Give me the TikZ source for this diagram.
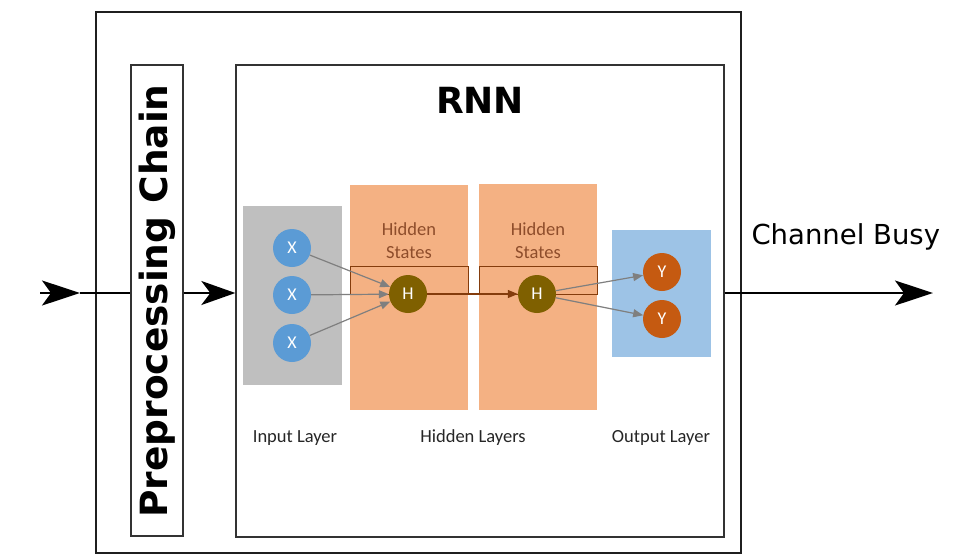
\documentclass[tikz,border=0pt]{standalone}
\usepackage{fontspec}
\usetikzlibrary{arrows.meta}
\newfontfamily\dvsans{DejaVu Sans}
\newfontfamily\lab{Carlito}

\definecolor{inbox}{HTML}{BFBFBF}
\definecolor{hidbox}{HTML}{F4B183}
\definecolor{outbox}{HTML}{9DC3E6}
\definecolor{xunit}{HTML}{5B9BD5}
\definecolor{hunit}{HTML}{7F6000}
\definecolor{yunit}{HTML}{C55A11}
\definecolor{statebrown}{HTML}{843C0C}
\definecolor{statetext}{HTML}{8E4D2B}
\definecolor{linkgray}{HTML}{7F7F7F}

\tikzset{
  frame/.style={rectangle, draw=black!88, line width=1.7pt, inner sep=0pt},
  subframe/.style={rectangle, draw=black!80, line width=1.3pt, inner sep=0pt, fill=white},
  layer/.style={rectangle, draw=none, inner sep=0pt},
  staterect/.style={rectangle, draw=statebrown, line width=1pt, inner sep=0pt},
  unit/.style={circle, minimum size=38pt, inner sep=0pt, text=white,
    font=\lab\fontsize{18}{18}\selectfont},
  lbl/.style={font=\lab\fontsize{18.5}{22}\selectfont, text=black!85},
  statelbl/.style={font=\lab\fontsize{18.5}{23}\selectfont, text=statetext, align=center},
  link/.style={draw=linkgray, line width=1.2pt, -{Triangle[length=10pt,width=8pt]}},
  hlink/.style={draw=statebrown, line width=1.2pt, -{Triangle[length=10pt,width=8pt]}},
  flow/.style={draw=black, line width=2pt},
  bigtip/.style={-{Stealth[length=38pt,width=25pt,inset=9pt]}},
}

\begin{document}
\begin{tikzpicture}[x=1pt,y=-1pt]
  \useasboundingbox (0,0) rectangle (978,560);

  % system frame, preprocessing block and RNN block
  \node[frame, minimum width=645pt, minimum height=541pt] (outer) at (418.5,282.5) {};
  \node[subframe, minimum width=52pt, minimum height=471pt] (pre) at (157,300.5) {};
  \node[rotate=90, font=\dvsans\bfseries\fontsize{37.5}{37.5}\selectfont] (pretext) at (157,301) {Preprocessing Chain};
  \node[subframe, minimum width=488pt, minimum height=472pt] (rnn) at (480,301) {};
  \node[font=\dvsans\bfseries\fontsize{36}{36}\selectfont] (rnntitle) at (480,100) {RNN};

  % layer backgrounds
  \node[layer, fill=inbox, minimum width=99pt, minimum height=179pt] (inlayer) at (292.5,295.5) {};
  \node[layer, fill=hidbox, minimum width=118pt, minimum height=225pt] (hid1) at (409,297.5) {};
  \node[layer, fill=hidbox, minimum width=118pt, minimum height=226pt] (hid2) at (538,297) {};
  \node[layer, fill=outbox, minimum width=99pt, minimum height=127pt] (outlayer) at (661.5,293.5) {};

  % hidden state strips
  \node[staterect, minimum width=118pt, minimum height=28pt] (st1) at (409,280) {};
  \node[staterect, minimum width=118pt, minimum height=28pt] (st2) at (538,280) {};
  \node[statelbl] (st1text) at (409,241) {Hidden\\States};
  \node[statelbl] (st2text) at (538,241) {Hidden\\States};

  % neurons
  \node[unit, fill=xunit] (x1) at (292,248) {X};
  \node[unit, fill=xunit] (x2) at (292,295) {X};
  \node[unit, fill=xunit] (x3) at (292,343) {X};
  \node[unit, fill=hunit] (h1) at (408,294) {H};
  \node[unit, fill=hunit] (h2) at (537,294) {H};
  \node[unit, fill=yunit] (y1) at (662,272) {Y};
  \node[unit, fill=yunit] (y2) at (662,319) {Y};

  % connections between neurons
  \draw[link] (x1) -- (h1);
  \draw[link] (x2) -- (h1);
  \draw[link] (x3) -- (h1);
  \draw[hlink] (h1) -- (h2);
  \draw[link] (h2) -- (y1);
  \draw[link] (h2) -- (y2);

  % layer captions
  \node[lbl] (inlbl) at (295,438) {Input Layer};
  \node[lbl] (hidlbl) at (473,438) {Hidden Layers};
  \node[lbl] (outlbl) at (661,438) {Output Layer};

  % signal flow
  \coordinate (src) at (40,293);
  \coordinate (srctip) at (80,293);
  \coordinate (dst) at (933,293);
  \draw[flow, bigtip] (src) -- (srctip);
  \draw[flow] (srctip) -- (pre.west |- srctip);
  \draw[flow, -{Stealth[length=34pt,width=24pt,inset=9pt]}] (pre.east |- srctip) -- (rnn.west |- srctip);
  \draw[flow, bigtip] (rnn.east |- srctip) -- (dst);
  \node[font=\dvsans\fontsize{27.5}{27.5}\selectfont, anchor=west] (busy) at (748,237) {Channel Busy};
\end{tikzpicture}
\end{document}
